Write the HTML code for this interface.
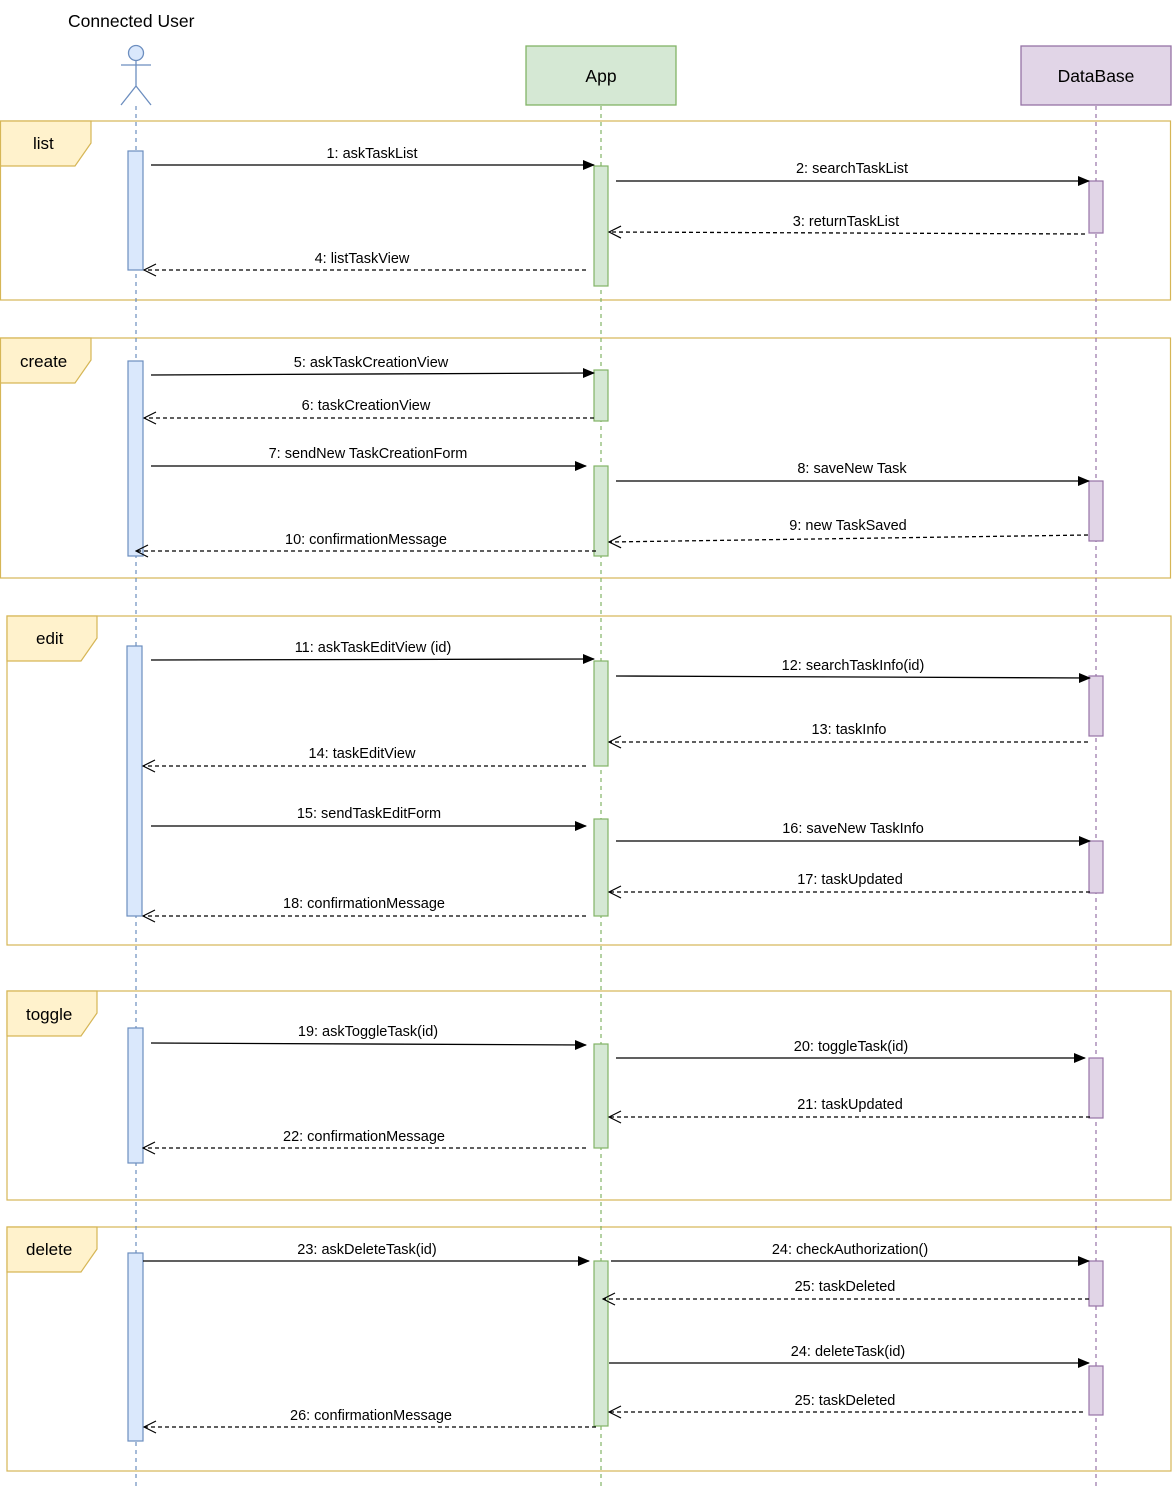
<!DOCTYPE html>
<html><head><meta charset="utf-8"><style>html,body{margin:0;padding:0;background:#fff}svg{display:block}text{font-family:"Liberation Sans",Arial,sans-serif;fill:#000}</style></head>
<body>
<svg width="1172" height="1487" viewBox="0 0 1172 1487" xmlns="http://www.w3.org/2000/svg">
<defs>
<marker id="af" markerWidth="12" markerHeight="12" refX="11" refY="6" orient="auto" markerUnits="userSpaceOnUse"><path d="M0,1 L12,6 L0,11 Z" fill="#000"/></marker>
<marker id="ao" markerWidth="14" markerHeight="14" refX="13" refY="7" orient="auto" markerUnits="userSpaceOnUse"><path d="M1,1 L13,7 L1,13" fill="none" stroke="#000" stroke-width="1.2"/></marker>
</defs>
<g fill="none" stroke="#d6b656" stroke-width="1.2">
<rect x="0.5" y="121" width="1170" height="179"/>
<rect x="0.5" y="338" width="1170" height="240"/>
<rect x="7" y="616" width="1164" height="329"/>
<rect x="7" y="991" width="1164" height="209"/>
<rect x="7" y="1227" width="1164" height="244"/>
</g>
<g fill="#fff2cc" stroke="#d6b656" stroke-width="1.2">
<path d="M0.5,121 H91 V143 L75,166 H0.5 Z"/>
<path d="M0.5,338 H91 V360 L75,383 H0.5 Z"/>
<path d="M7,616 H97 V638 L81,661 H7 Z"/>
<path d="M7,991 H97 V1013 L81,1036 H7 Z"/>
<path d="M7,1227 H97 V1249 L81,1272 H7 Z"/>
</g>
<g font-size="17">
<text x="33" y="149">list</text>
<text x="20" y="367">create</text>
<text x="36" y="644">edit</text>
<text x="26" y="1020">toggle</text>
<text x="26" y="1255">delete</text>
</g>
<text x="68" y="27" font-size="17.5">Connected User</text>
<g fill="#dae8fc" stroke="#6c8ebf" stroke-width="1.3">
<circle cx="136" cy="53" r="7.5"/>
<path d="M121,65 H151 M136,60 V86 M136,86 L121,105 M136,86 L151,105" fill="none"/>
</g>
<rect x="526" y="46" width="150" height="59" fill="#d5e8d4" stroke="#82b366" stroke-width="1.3"/>
<text x="601" y="82" font-size="17.5" text-anchor="middle">App</text>
<rect x="1021" y="46" width="150" height="59" fill="#e1d5e7" stroke="#9673a6" stroke-width="1.3"/>
<text x="1096" y="82" font-size="17.5" text-anchor="middle">DataBase</text>
<g stroke-width="1.2" stroke-dasharray="4,4">
<line x1="136" y1="106" x2="136" y2="1487" stroke="#6c8ebf"/>
<line x1="601" y1="106" x2="601" y2="1487" stroke="#82b366"/>
<line x1="1096" y1="106" x2="1096" y2="1487" stroke="#9673a6"/>
</g>
<g fill="#dae8fc" stroke="#6c8ebf" stroke-width="1.2">
<rect x="128" y="151" width="15" height="119"/>
<rect x="128" y="361" width="15" height="195"/>
<rect x="127" y="646" width="15" height="270"/>
<rect x="128" y="1028" width="15" height="135"/>
<rect x="128" y="1253" width="15" height="188"/>
</g>
<g fill="#d5e8d4" stroke="#82b366" stroke-width="1.2">
<rect x="594" y="166" width="14" height="120"/>
<rect x="594" y="370" width="14" height="51"/>
<rect x="594" y="466" width="14" height="90"/>
<rect x="594" y="661" width="14" height="105"/>
<rect x="594" y="819" width="14" height="97"/>
<rect x="594" y="1044" width="14" height="104"/>
<rect x="594" y="1261" width="14" height="165"/>
</g>
<g fill="#e1d5e7" stroke="#9673a6" stroke-width="1.2">
<rect x="1089" y="181" width="14" height="52"/>
<rect x="1089" y="481" width="14" height="60"/>
<rect x="1089" y="676" width="14" height="60"/>
<rect x="1089" y="841" width="14" height="52"/>
<rect x="1089" y="1058" width="14" height="60"/>
<rect x="1089" y="1261" width="14" height="45"/>
<rect x="1089" y="1366" width="14" height="49"/>
</g>
<g stroke="#000" stroke-width="1.3" fill="none">
<g marker-end="url(#af)">
<line x1="151" y1="165" x2="594" y2="165"/>
<line x1="616" y1="181" x2="1089" y2="181"/>
<line x1="151" y1="375" x2="594" y2="373"/>
<line x1="151" y1="466" x2="586" y2="466"/>
<line x1="616" y1="481" x2="1089" y2="481"/>
<line x1="151" y1="660" x2="594" y2="659"/>
<line x1="616" y1="676" x2="1090" y2="678"/>
<line x1="151" y1="826" x2="586" y2="826"/>
<line x1="616" y1="841" x2="1090" y2="841"/>
<line x1="151" y1="1043" x2="586" y2="1045"/>
<line x1="616" y1="1058" x2="1085" y2="1058"/>
<line x1="143" y1="1261" x2="589" y2="1261"/>
<line x1="611" y1="1261" x2="1089" y2="1261"/>
<line x1="609" y1="1363" x2="1089" y2="1363"/>
</g>
<g marker-end="url(#ao)" stroke-dasharray="4,3">
<line x1="1085" y1="234" x2="609" y2="232"/>
<line x1="586" y1="270" x2="144" y2="270"/>
<line x1="594" y1="418" x2="144" y2="418"/>
<line x1="1088" y1="535" x2="609" y2="542"/>
<line x1="596" y1="551" x2="136" y2="551"/>
<line x1="1088" y1="742" x2="609" y2="742"/>
<line x1="586" y1="766" x2="143" y2="766"/>
<line x1="1090" y1="892" x2="609" y2="892"/>
<line x1="586" y1="916" x2="143" y2="916"/>
<line x1="1090" y1="1117" x2="609" y2="1117"/>
<line x1="586" y1="1148" x2="143" y2="1148"/>
<line x1="1089" y1="1299" x2="603" y2="1299"/>
<line x1="1083" y1="1412" x2="609" y2="1412"/>
<line x1="596" y1="1427" x2="144" y2="1427"/>
</g>
</g>
<g font-size="14.5" text-anchor="middle">
<text x="372" y="158">1: askTaskList</text>
<text x="852" y="173">2: searchTaskList</text>
<text x="846" y="226">3: returnTaskList</text>
<text x="362" y="263">4: listTaskView</text>
<text x="371" y="367">5: askTaskCreationView</text>
<text x="366" y="410">6: taskCreationView</text>
<text x="368" y="458">7: sendNew TaskCreationForm</text>
<text x="852" y="473">8: saveNew Task</text>
<text x="848" y="530">9: new TaskSaved</text>
<text x="366" y="544">10: confirmationMessage</text>
<text x="373" y="652">11: askTaskEditView (id)</text>
<text x="853" y="670">12: searchTaskInfo(id)</text>
<text x="849" y="734">13: taskInfo</text>
<text x="362" y="758">14: taskEditView</text>
<text x="369" y="818">15: sendTaskEditForm</text>
<text x="853" y="833">16: saveNew TaskInfo</text>
<text x="850" y="884">17: taskUpdated</text>
<text x="364" y="908">18: confirmationMessage</text>
<text x="368" y="1036">19: askToggleTask(id)</text>
<text x="851" y="1051">20: toggleTask(id)</text>
<text x="850" y="1109">21: taskUpdated</text>
<text x="364" y="1141">22: confirmationMessage</text>
<text x="367" y="1254">23: askDeleteTask(id)</text>
<text x="850" y="1254">24: checkAuthorization()</text>
<text x="845" y="1291">25: taskDeleted</text>
<text x="848" y="1356">24: deleteTask(id)</text>
<text x="845" y="1405">25: taskDeleted</text>
<text x="371" y="1420">26: confirmationMessage</text>
</g>
</svg>
</body></html>
